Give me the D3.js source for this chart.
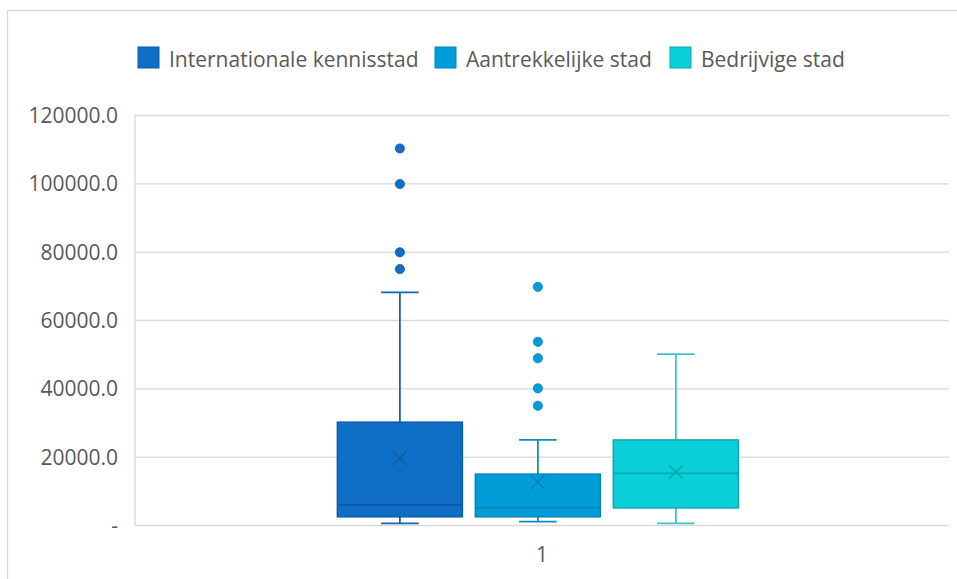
<!DOCTYPE html>
<html>
<head>
<meta charset="utf-8">
<script src="https://cdn.jsdelivr.net/npm/d3@7"></script>
<style>
  html, body { margin: 0; padding: 0; background: #fff; }
  svg { display: block; }
  text { font-family: "Open Sans", "Noto Sans", sans-serif; fill: #595959; }
</style>
</head>
<body>
<svg id="chart" width="957" height="579"></svg>
<script>
// ---- data ----
const categories = ["1"];
const seriesNames = ["Internationale kennisstad", "Aantrekkelijke stad", "Bedrijvige stad"];
const whiskerLow  = [500, 1000, 500];
const q1Values    = [2400, 2400, 5000];
const medians     = [5850, 5100, 15100];
const q3Values    = [30100, 14900, 24900];
const whiskerHigh = [68100, 24900, 50000];
const means       = [19600, 12600, 15500];
const outliers    = [
  [110200, 99800, 79800, 74900],
  [69700, 53600, 48800, 40000, 34900],
  []
];
const yTicks = [0, 20000, 40000, 60000, 80000, 100000, 120000];

// ---- styles ----
const fills   = ["#0F6FC6", "#009DD9", "#0BD0D9"];
const strokes = ["#0D5CA6", "#0085B8", "#0AA9B0"];
const whiskerStrokes = ["#1466B4", "#0A8DC4", "#3CC3C8"];

const svg = d3.select("#chart");
const W = 957, H = 579;
const m = { left: 135, right: 949, top: 115, bottom: 525 };

// chart border (top & left visible)
svg.append("path")
  .attr("d", `M7.5,${H} V10.5 H${W}`)
  .attr("fill", "none").attr("stroke", "#D9D9D9").attr("stroke-width", 1.3);

const y = d3.scaleLinear().domain([0, 120000]).range([m.bottom, m.top]);
const x = d3.scaleBand().domain(categories).range([m.left, m.right]).padding(0);
const xs = d3.scaleBand().domain(seriesNames).range([0, x.bandwidth()])
  .paddingInner(0.094).paddingOuter(1.4965).align(0.49);

// gridlines
const gridAxis = d3.axisLeft(y).tickValues(yTicks).tickSize(-(m.right - m.left)).tickFormat("");
const gg = svg.append("g").attr("transform", `translate(${m.left},0)`).call(gridAxis);
gg.select(".domain").remove();
gg.selectAll("line").attr("stroke", "#D9D9D9").attr("stroke-width", 1.3);

// left vertical line of plot area
svg.append("line")
  .attr("x1", m.left).attr("x2", m.left).attr("y1", y(120000)).attr("y2", y(0))
  .attr("stroke", "#D9D9D9").attr("stroke-width", 1.3);

// y axis labels
const yAxis = d3.axisLeft(y).tickValues(yTicks).tickSize(0).tickPadding(17)
  .tickFormat(d => d === 0 ? "-" : d3.format(".1f")(d));
const ya = svg.append("g").attr("transform", `translate(${m.left},0)`).call(yAxis);
ya.select(".domain").remove();
ya.selectAll("text").attr("font-size", 21).attr("fill", "#595959")
  .style("font-family", '"Open Sans", sans-serif').attr("dy", "0.35em");

// x axis label
const xAxis = d3.axisBottom(x).tickSize(0).tickPadding(22);
const xa = svg.append("g").attr("transform", `translate(0,${m.bottom})`).call(xAxis);
xa.select(".domain").remove();
xa.selectAll("text").attr("font-size", 21).attr("fill", "#595959")
  .style("font-family", '"Open Sans", sans-serif');

// boxes
const cat = categories[0];
seriesNames.forEach((s, i) => {
  const x0 = x(cat) + xs(s);
  const bw = xs.bandwidth();
  const cx = x0 + bw / 2;
  const g = svg.append("g");
  const capW = bw * 0.3;
  // whiskers
  g.append("line").attr("x1", cx).attr("x2", cx).attr("y1", y(q3Values[i])).attr("y2", y(whiskerHigh[i]))
    .attr("stroke", whiskerStrokes[i]).attr("stroke-width", 1.8);
  g.append("line").attr("x1", cx).attr("x2", cx).attr("y1", y(q1Values[i])).attr("y2", y(whiskerLow[i]))
    .attr("stroke", whiskerStrokes[i]).attr("stroke-width", 1.8);
  [whiskerHigh[i], whiskerLow[i]].forEach(v => {
    g.append("line").attr("x1", cx - capW / 2).attr("x2", cx + capW / 2).attr("y1", y(v)).attr("y2", y(v))
      .attr("stroke", whiskerStrokes[i]).attr("stroke-width", 1.8);
  });
  // box
  g.append("rect").attr("x", x0).attr("width", bw)
    .attr("y", y(q3Values[i])).attr("height", y(q1Values[i]) - y(q3Values[i]))
    .attr("fill", fills[i]).attr("stroke", strokes[i]).attr("stroke-width", 1.5);
  // median
  g.append("line").attr("x1", x0).attr("x2", x0 + bw).attr("y1", y(medians[i])).attr("y2", y(medians[i]))
    .attr("stroke", strokes[i]).attr("stroke-width", 1.8);
  // mean X
  const my = y(means[i]), a = 7;
  g.append("path").attr("d", `M${cx - a},${my - a}L${cx + a},${my + a}M${cx - a},${my + a}L${cx + a},${my - a}`)
    .attr("stroke", strokes[i]).attr("stroke-width", 1.6).attr("fill", "none");
  // outliers
  g.selectAll("circle.o").data(outliers[i]).enter().append("circle")
    .attr("cx", cx).attr("cy", d => y(d)).attr("r", 4.6)
    .attr("fill", fills[i]).attr("stroke", strokes[i]).attr("stroke-width", 0.8);
});

// legend
const legendX = [138, 435, 670];
const lg = svg.append("g");
seriesNames.forEach((s, i) => {
  lg.append("rect").attr("x", legendX[i]).attr("y", 47).attr("width", 21).attr("height", 21)
    .attr("fill", fills[i]).attr("stroke", strokes[i]).attr("stroke-width", 1);
  lg.append("text").attr("x", legendX[i] + 31).attr("y", 66.5).attr("font-size", 21).text(s);
});
</script>
</body>
</html>
